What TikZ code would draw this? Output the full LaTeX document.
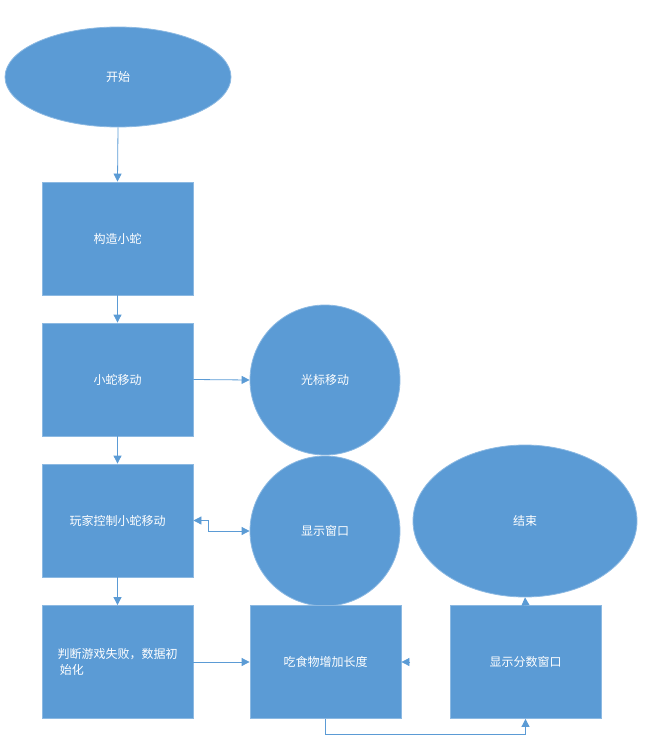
\documentclass[tikz,border=0pt]{standalone}
\usepackage{fontspec}
\setmainfont{Noto Sans CJK SC}
\usetikzlibrary{shapes.geometric,arrows.meta}
\definecolor{fillb}{HTML}{5B9BD5}
\definecolor{lineb}{HTML}{5B9BD5}
\begin{document}
\begin{tikzpicture}[x=0.75pt,y=-0.75pt,
  shp/.style={fill=fillb,draw=fillb!70!white,line width=0.6pt,text=white,font=\fontsize{9}{13}\selectfont,inner sep=0pt},
  boxn/.style={shp,rectangle,minimum width=113.25pt,minimum height=84.75pt},
  ell/.style={shp,ellipse},
  circ/.style={shp,circle,minimum size=112.5pt},
  arr/.style={draw=lineb,line width=0.6pt,-{Triangle[length=6pt,width=6pt]}}]
\useasboundingbox (0,0) rectangle (644,735);
\node[ell,minimum width=169.5pt,minimum height=75pt] (start) at (118,77) {开始};
\node[boxn] (b1) at (117.5,238.5) {构造小蛇};
\node[boxn] (b2) at (117.5,379.5) {小蛇移动};
\node[circ] (c1) at (325,380) {光标移动};
\node[boxn] (b3) at (117.5,520.5) {玩家控制小蛇移动};
\node[circ] (c2) at (325,531) {显示窗口};
\node[ell,minimum width=168pt,minimum height=114pt] (end) at (525,521) {结束};
\node[boxn,align=center] (b4) at (117.5,662) {判断游戏失败，数据初\\[-1pt]始化\hspace*{7.6em}};
\node[boxn] (b5) at (325.5,662) {吃食物增加长度};
\node[boxn] (b6) at (525.5,662) {显示分数窗口};
\draw[arr] (start.south) -- (b1.north);
\draw[arr] (b1.south) -- (b2.north);
\draw[arr] (b2.south) -- (b3.north);
\draw[arr] (b3.south) -- (b4.north);
\draw[arr] (b2.east) -- (c1.west);
\draw[arr,{Triangle[length=6pt,width=6pt]}-{Triangle[length=6pt,width=6pt]}] (b3.east) -- ++(15,0) |- (c2.west);
\draw[arr] (b4.east) -- (b5.west);
\draw[arr] (b6.west -| 410,0) -- (b5.east);
\draw[arr] (b5.south) -- ++(0,15) -| (b6.south);
\draw[arr] (b6.north) -- (end.south);
\end{tikzpicture}
\end{document}
